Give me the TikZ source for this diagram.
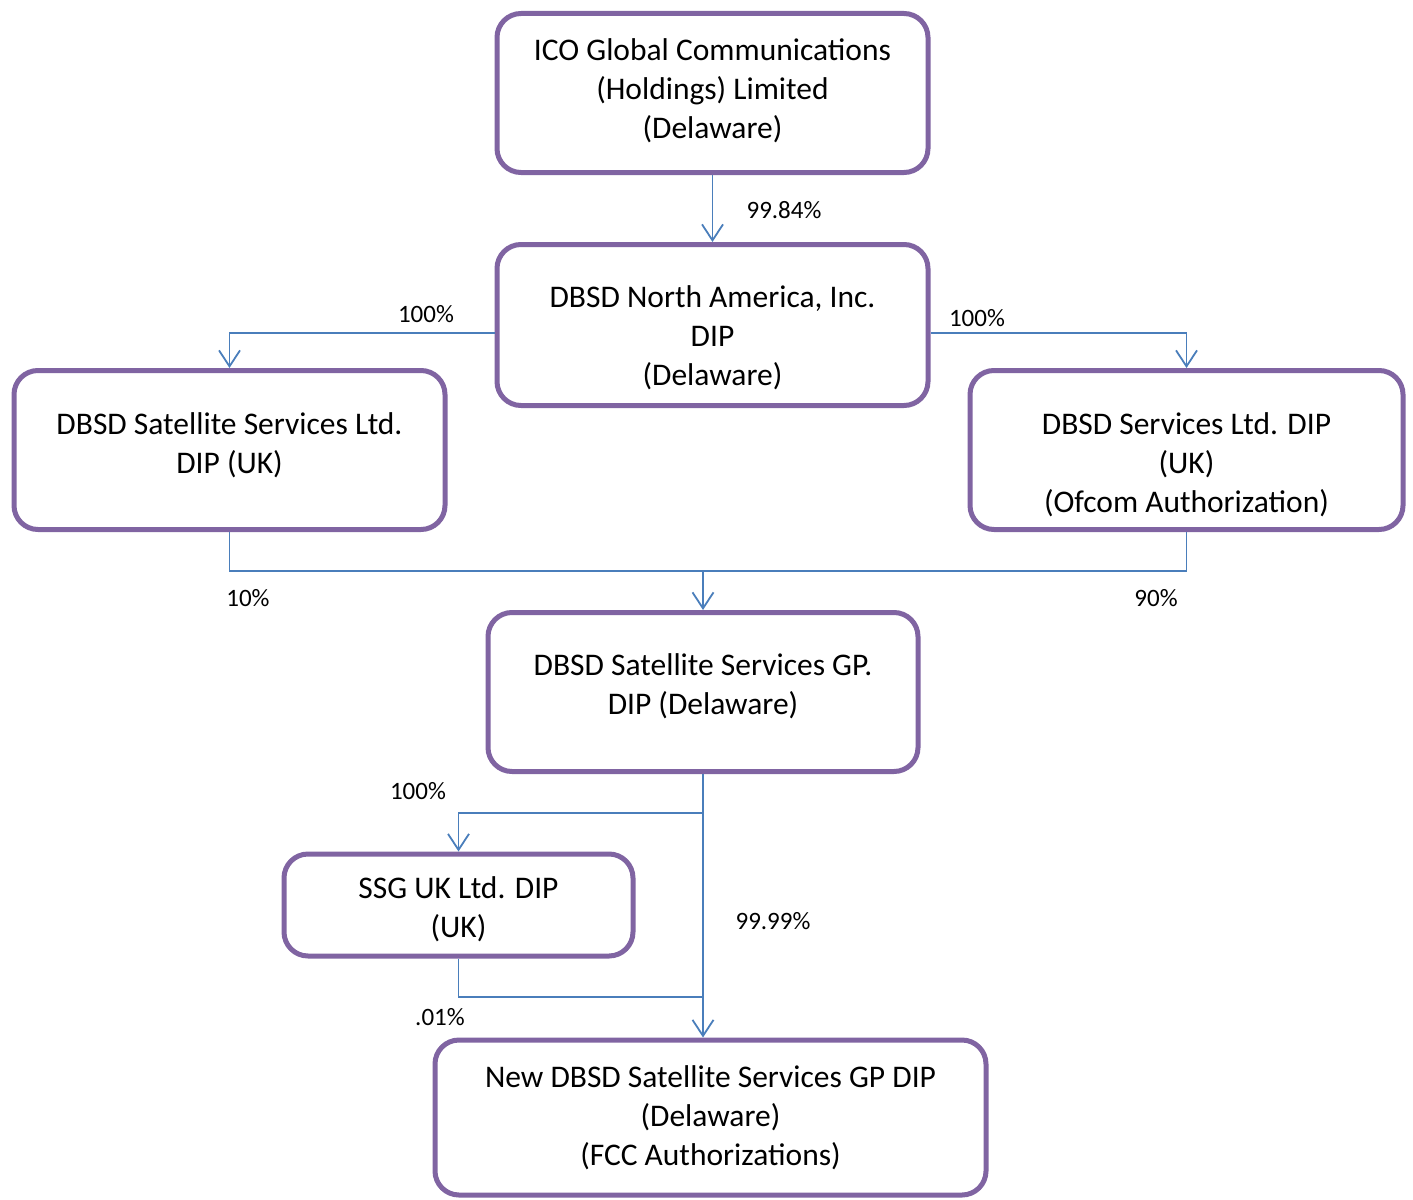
\documentclass[tikz,border=0pt]{standalone}
\usepackage{fontspec}
\setmainfont{Carlito}
\usetikzlibrary{arrows.meta}
\definecolor{boxpurple}{HTML}{8064A2}
\definecolor{linkblue}{HTML}{4A7EBB}
\tikzset{entity/.style={draw=boxpurple, line width=5pt, rounded corners=24pt, fill=white, inner sep=0pt},
%text of a box, nudged up or down
firm/.style 2 args={label={[font=\fontsize{31.5}{39}\selectfont, align=center, yshift=#1]center:#2}},
share/.style={font=\fontsize{25}{30}\selectfont},
%plain joins, no tip
linkline/.style={draw=linkblue, line width=1.8pt},
link/.style={linkline, -{Straight Barb[length=16pt,width=21pt,line width=1.8pt]}}}

\begin{document}
\begin{tikzpicture}[x=1pt,y=-1pt]
\useasboundingbox (0,0) rectangle (1413,1199);
% companies
\node[entity, minimum width=431pt, minimum height=159pt, firm={2pt}{ICO Global Communications\\(Holdings) Limited\\(Delaware)}] (ico) at (712.5,93) {};
\node[entity, minimum width=431pt, minimum height=161pt, firm={-13pt}{DBSD North America, Inc.\\DIP\\(Delaware)}] (na) at (712.5,325) {};
\node[entity, minimum width=431pt, minimum height=159pt, firm={5pt}{DBSD Satellite Services Ltd.\\DIP (UK)}] (satltd) at (229.5,450) {};
\node[entity, minimum width=433pt, minimum height=159pt, firm={-15pt}{DBSD Services Ltd. DIP\\(UK)\\(Ofcom Authorization)}] (svcltd) at (1186.5,450) {};
\node[entity, minimum width=430pt, minimum height=159pt, firm={6pt}{DBSD Satellite Services GP.\\DIP (Delaware)}] (gp) at (703,692) {};
\node[entity, minimum width=349pt, minimum height=102pt, firm={-4pt}{SSG UK Ltd. DIP\\(UK)}] (ssg) at (458.5,905) {};
\node[entity, minimum width=551pt, minimum height=155pt, firm={0pt}{New DBSD Satellite Services GP DIP\\(Delaware)\\(FCC Authorizations)}] (newgp) at (710.5,1117.5) {};

% joins
\coordinate (joinUK) at (gp.north |- 0,571);
\coordinate (joinGP) at (gp.north |- 0,813);
\coordinate (joinSSG) at (gp.north |- 0,997);

% ownership
\draw[link] (ico) -- (na);
\draw[link] ([yshift=-8pt]na.west) -| (satltd.north);
\draw[link] ([yshift=-8pt]na.east) -| (svcltd.north);
\draw[linkline] (satltd.south) |- (joinUK);
\draw[linkline] (svcltd.south) |- (joinUK);
\draw[link] (joinUK) -- (gp.north);
\draw[link] (joinGP) -| (ssg.north);
\draw[link] (gp.south) -- (gp.south |- newgp.north);
\draw[linkline] (ssg.south) |- (joinSSG);

%labels
\node[share] (pctico) at (784,210) {99.84\%};
\node[share] (pctsat) at (426,314) {100\%};
\node[share] (pctsvc) at (977,318) {100\%};
\node[share] (pctten) at (248,598) {10\%};
\node[share] (pctninety) at (1156,598) {90\%};
\node[share] (pctssg) at (418,791) {100\%};
\node[share] (pctnew) at (773,921) {99.99\%};
\node[share] (pctsmall) at (440,1017) {.01\%};

\end{tikzpicture}
\end{document}
